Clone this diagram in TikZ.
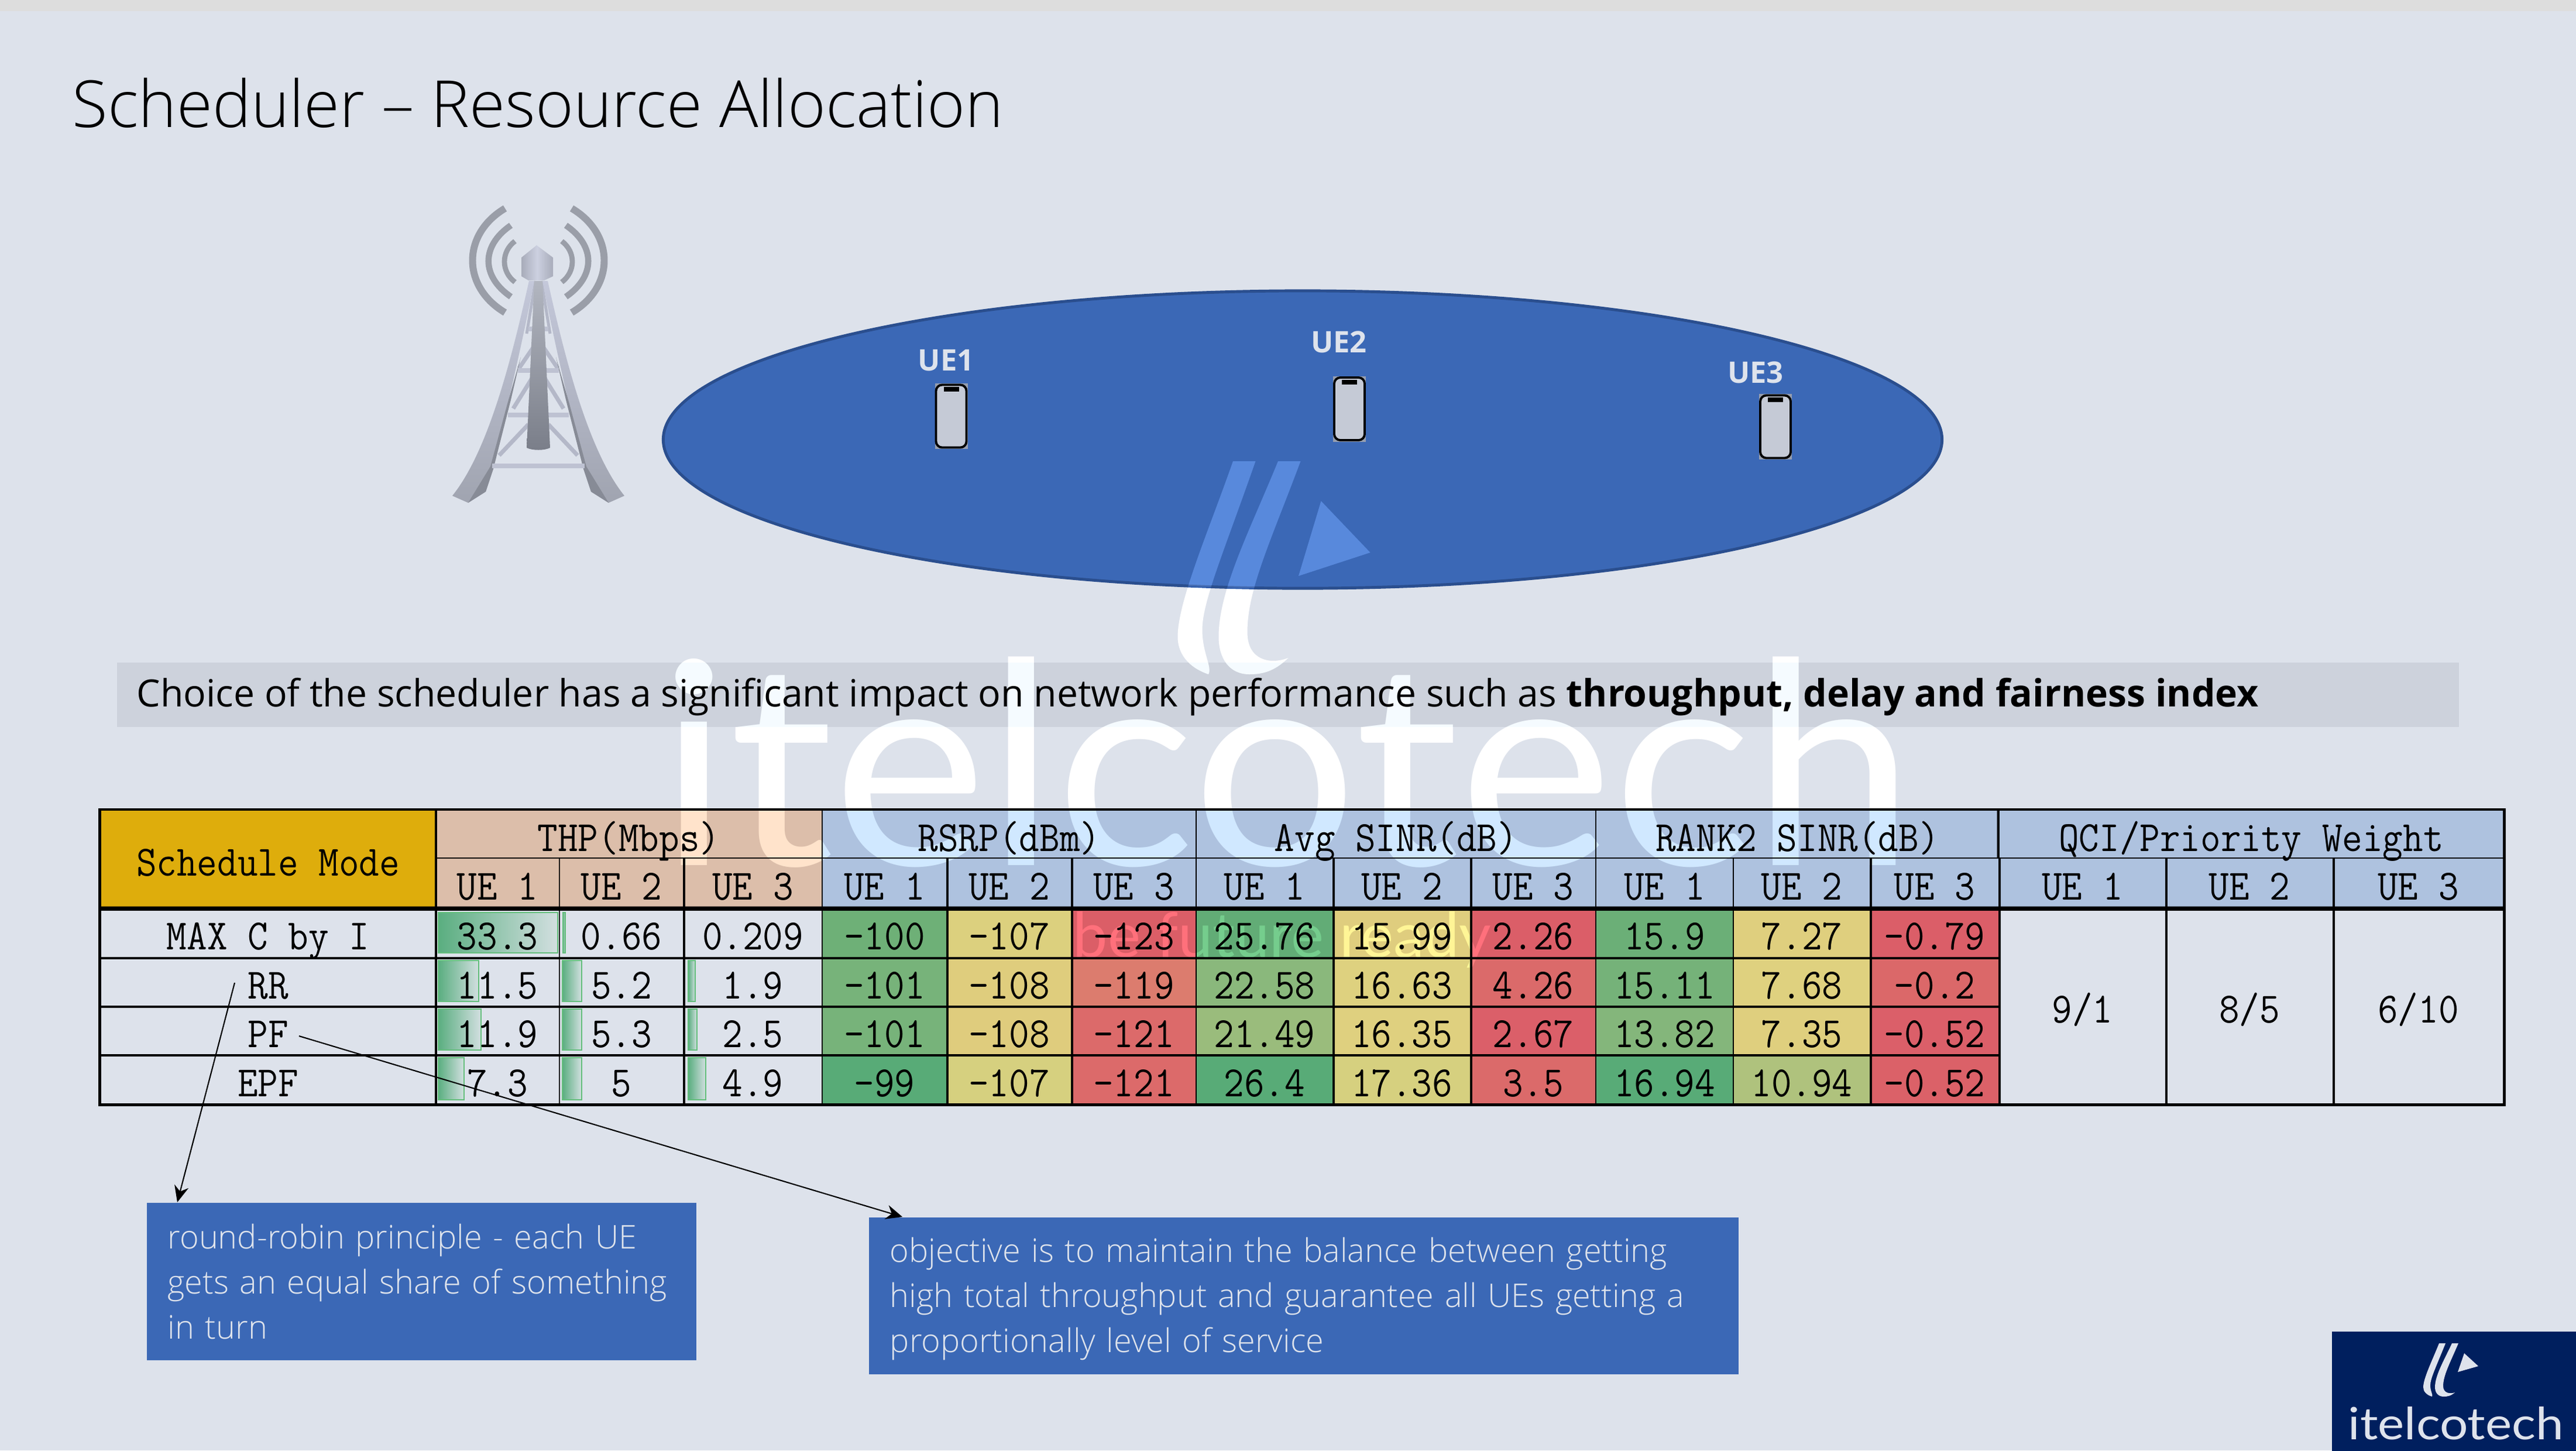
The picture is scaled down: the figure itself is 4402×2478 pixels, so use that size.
\documentclass[tikz,border=0pt]{standalone}
\usepackage{fontspec}
\usepackage{graphicx}
\setmainfont{Open Sans}
\newfontfamily\lightfont{Open Sans Light}
\newfontfamily\logofont{Lato}
\setmonofont[FakeStretch=0.91]{Latin Modern Mono}
\usetikzlibrary{shapes,shapes.geometric,arrows.meta,calc,positioning}

\definecolor{bgc}{HTML}{DDE2EB}
\definecolor{stripc}{HTML}{DDDDDD}
\definecolor{bluec}{HTML}{3B68B6}
\definecolor{blueline}{HTML}{2A4E8E}
\definecolor{bandc}{HTML}{CDD2DC}
\definecolor{goldc}{HTML}{DEAD0C}
\definecolor{thpc}{HTML}{DCBEAA}
\definecolor{hdrc}{HTML}{AEC2DF}
\definecolor{navyc}{HTML}{001F5E}
\definecolor{palec}{HTML}{DEE3EC}
\definecolor{wavec}{HTML}{9A9EA8}
\definecolor{dodgec}{HTML}{2A2A2A}
\definecolor{sparc}{HTML}{B4B8C8}
\definecolor{barc}{HTML}{BEC2D2}

\pgfdeclarelayer{base}
\pgfdeclarelayer{fills}
\pgfdeclarelayer{marks}
\pgfsetlayers{base,fills,marks,main}

\newcommand{\tablefont}{\ttfamily\fontsize{21}{24}\selectfont}
\def\colx{{744,956,1168,1405,1618,1831,2044,2278,2513,2727,2962,3196,3416}}

\tikzset{
  tabcell/.style={font=\tablefont, inner sep=0pt, draw=black, line width=.7pt,
    text height=16.5pt, text depth=0pt, align=center},
  databar/.style={draw={rgb,255:red,99;green,190;blue,123}, line width=.7pt,
    left color={rgb,255:red,90;green,174;blue,128}, right color={rgb,255:red,210;green,223;blue,224}},
  phone/.style={draw=black, line width=1.1pt, fill={rgb,255:red,197;green,202;blue,214},
    rounded corners=3pt, minimum width=.52cm, minimum height=1.07cm, inner sep=0pt},
  uelabel/.style={font=\bfseries\fontsize{14.4}{16}\selectfont, text=palec, inner sep=0pt},
  notebox/.style={fill=bluec, text=palec, font=\lightfont\fontsize{15.87}{21.9}\selectfont,
    align=left, inner xsep=.36cm, inner ysep=0pt, anchor=north west},
  bizlogo/.pic={
    \fill[pic actions] (0,0) -- (11,0) .. controls (-5,40) and (-15,60) .. (-15,72)
      .. controls (-15,82) and (-10,88) .. (-12,91) .. controls (-22,88) and (-27,82) .. (-27,75)
      .. controls (-27,60) and (-12,30) .. (0,0) -- cycle;
    \fill[pic actions] (22,0) -- (33,0) .. controls (18,35) and (7,55) .. (7,73)
      .. controls (7,85) and (18,87) .. (27,84) .. controls (20,90) and (14,91) .. (8,91)
      .. controls (-2,91) and (-7,84) .. (-7,75) .. controls (-7,55) and (8,30) .. (22,0) -- cycle;
    \fill[pic actions] (43,17) -- (67,39) -- (32,49) -- cycle;
  }
}

% name, x0, x1, y0, y1, text
\newcommand{\tabcell}[7][bgc]{%
  \pgfmathsetmacro{\cellw}{(#4-#3)*0.01}%
  \pgfmathsetmacro{\cellh}{(#6-#5)*0.01}%
  \node[tabcell, minimum width=\cellw cm, minimum height=\cellh cm] (#2) at ({(#3+#4)/2},{(#5+#6)/2}) {#7};
  \begin{pgfonlayer}{fills}
    \fill[#1] (#2.south west) rectangle (#2.north east);
  \end{pgfonlayer}
}
% row, y0, y1, label, cells
\newcommand{\datarow}[5]{%
  \tabcell{lab#1}{172}{744}{#2}{#3}{#4}
  \foreach \txt/\hx [count=\cidx] in {#5} {
    \pgfmathsetmacro{\xa}{\colx[\cidx-1]}
    \pgfmathsetmacro{\xb}{\colx[\cidx]}
    \definecolor{cellc}{HTML}{\hx}
    \tabcell[cellc]{c\cidx-#1}{\xa}{\xb}{#2}{#3}{\txt}
  }
}

\begin{document}
\begin{tikzpicture}[%
x=0.01cm,
y=-0.01cm,
>={Stealth[length=8pt,width=7pt]}
]
\useasboundingbox (0,0) rectangle (4402,2478);

% slide ground
\begin{pgfonlayer}{base}
\fill[bgc] (0,0) rectangle (4402,2478);
\fill[stripc] (0,0) rectangle (4402,19);
\end{pgfonlayer}

\node[anchor=base west, inner sep=0pt, font=\lightfont\fontsize{31.55}{36}\selectfont] (title) at (123,217)
  {Scheduler – Resource Allocation};

% tower
\foreach \sgn in {1,-1} {
\begin{scope}[shift={(920,0)}, xscale=\sgn]
\draw[wavec, line width=3.4pt] (-57,356) .. controls (-131,400) and (-131,490) .. (-57,534);
\draw[wavec, line width=3.0pt] (-47,385) .. controls (-98,420) and (-98,472) .. (-47,507);
\draw[wavec, line width=2.5pt] (-40,412) .. controls (-64,430) and (-64,464) .. (-40,482);
\draw[sparc, line width=2pt] (-7,591) -- (-33,629);
\draw[sparc, line width=2pt] (-12,648) -- (-43,698);
\draw[sparc, line width=2pt] (-17,725) -- (-67,778);
\draw[sparc, line width=1.4pt] (-5,480) -- (-20,570);
\shade[top color={rgb,255:red,196;green,200;blue,218}, bottom color={rgb,255:red,160;green,164;blue,176}]
  (-16,480) .. controls (-45,610) and (-85,770) .. (-147,847) -- (-120,859) -- (-90,840) -- (-77,801)
  .. controls (-60,720) and (-30,600) .. (-7,480) -- cycle;
\fill[color={rgb,255:red,135;green,139;blue,150}] (-30,610) -- (-53,690) -- (-82,797) -- (-120,859)
  -- (-90,840) -- (-77,801) -- (-47,683) -- cycle;
\end{scope}
}
\foreach \yb/\hw in {562/17,633/35,709/52,796/79}
  \draw[barc, line width=2.4pt] (920-\hw,\yb) -- (920+\hw,\yb);
\shade[top color={rgb,255:red,178;green,182;blue,192}, bottom color={rgb,255:red,122;green,126;blue,137}]
  (913,480) -- (927,480) -- (940,765) .. controls (930,770) and (910,770) .. (900,765) -- cycle;
\shade[left color={rgb,255:red,168;green,172;blue,186}, right color={rgb,255:red,168;green,172;blue,186},
  middle color={rgb,255:red,204;green,208;blue,224}]
  (891,440) -- (917,419) -- (945,440) -- (945,472) -- (930,479) -- (903,479) -- (891,472) -- cycle;

% coverage ellipse and band
\begin{pgfonlayer}{fills}
\node[ellipse, fill=bluec, draw=blueline, line width=1.4pt, minimum width=21.84cm, minimum height=5.08cm,
  inner sep=0pt] (cell) at (2226,751) {};
\node[fill=bandc, anchor=north west, minimum width=40cm, minimum height=1.1cm, inner sep=0pt] (band) at (199,1131) {};
\end{pgfonlayer}

\foreach \n/\x/\y in {1/1625.5/711,2/2306/698.5,3/3034/729} {
  \fill[color={rgb,255:red,150;green,158;blue,175}] (\x-28,\y-56) rectangle (\x+28,\y+56);
  \node[phone] (ph\n) at (\x,\y) {};
  \fill[black] (\x-13,\y-50) rectangle (\x+13,\y-42);
}
\node[uelabel, above=0.21cm of ph1, xshift=-0.09cm] (ue1) {UE1};
\node[uelabel, above=0.39cm of ph2, xshift=-0.18cm] (ue2) {UE2};
\node[uelabel, above=0.18cm of ph3, xshift=-0.34cm] (ue3) {UE3};

% watermark, lightening whatever lies under it
\begin{pgfonlayer}{marks}
\begin{scope}[blend mode=color dodge]
\pic[fill=dodgec, xscale=3.5, yscale=4] at (2107,788) {bizlogo};
\node[anchor=south west, inner sep=0pt, text=dodgec] (wmtext) at (1126,1483)
  {\resizebox{21.4cm}{3.56cm}{\logofont itelcotech}};
\node[anchor=base west, inner sep=0pt, text=dodgec] (ready) at (1833,1635)
  {\resizebox{7.14cm}{!}{\logofont be future ready}};
\end{scope}
\begin{scope}
\clip (2226,751) ellipse [x radius=1092, y radius=254];
\pic[fill=white, fill opacity=.1, xscale=3.5, yscale=4] at (2107,788) {bizlogo};
\end{scope}
\end{pgfonlayer}

\node[anchor=base west, inner sep=0pt, font=\fontsize{18.27}{22}\selectfont] (bandtext) at (233,1207)
  {Choice of the scheduler has a significant impact on network performance such as \textbf{throughput, delay and fairness index}};

% table head
\tabcell[goldc]{mode}{172}{744}{1384}{1551}{Schedule Mode}
\tabcell[thpc]{thp}{744}{1405}{1384}{1466}{THP(Mbps)}
\tabcell[hdrc]{rsrp}{1405}{2044}{1384}{1466}{RSRP(dBm)}
\tabcell[hdrc]{sinr}{2044}{2727}{1384}{1466}{Avg SINR(dB)}
\tabcell[hdrc]{rank}{2727}{3416}{1384}{1466}{RANK2 SINR(dB)}
\tabcell[hdrc]{qci}{3416}{4278}{1384}{1466}{QCI/Priority Weight}
\foreach \cidx in {1,...,12} {
  \pgfmathsetmacro{\xa}{\colx[\cidx-1]}
  \pgfmathsetmacro{\xb}{\colx[\cidx]}
  \pgfmathtruncatemacro{\uenum}{mod(\cidx-1,3)+1}
  \pgfmathsetmacro{\cname}{\cidx<4 ? "thpc" : "hdrc"}
  \tabcell[\cname]{u\cidx}{\xa}{\xb}{1466}{1551}{UE \uenum}
}
\tabcell[hdrc]{qu1}{3416}{3701}{1466}{1551}{UE 1}
\tabcell[hdrc]{qu2}{3701}{3987}{1466}{1551}{UE 2}
\tabcell[hdrc]{qu3}{3987}{4278}{1466}{1551}{UE 3}

% table rows
\datarow{1}{1551}{1636}{MAX C by I}{33.3/DDE2EB,0.66/DDE2EB,0.209/DDE2EB,-100/6EB077,-107/DCD07E,-123/DB5E67,25.76/62AC76,15.99/DFCD7E,2.26/DB5E68,15.9/6BAF77,7.27/DFCF7E,-0.79/DB5E68}
\datarow{2}{1636}{1719}{RR}{11.5/DDE2EB,5.2/DDE2EB,1.9/DDE2EB,-101/77B37A,-108/DFCD7D,-119/DC7C6E,22.58/8AB87C,16.63/DED17F,4.26/DB6A6A,15.11/75B279,7.68/DFD17F,-0.2/DB6869}
\datarow{3}{1719}{1802}{PF}{11.9/DDE2EB,5.3/DDE2EB,2.5/DDE2EB,-101/77B37A,-108/DFCC7D,-121/DC6A6A,21.49/9ABC7C,16.35/DFD07F,2.67/DB5F69,13.82/84B67B,7.35/DFCF7E,-0.52/DB5F69}
\datarow{4}{1802}{1886}{EPF}{7.3/DDE2EB,5/DDE2EB,4.9/DDE2EB,-99/58AB77,-107/D6D07F,-121/DC6A6A,26.4/58AB77,17.36/D6D07F,3.5/DB6A6A,16.94/58AB77,10.94/AFC27D,-0.52/DB6168}
\tabcell{qw1}{3416}{3701}{1551}{1886}{9/1}
\tabcell{qw2}{3701}{3987}{1551}{1886}{8/5}
\tabcell{qw3}{3987}{4278}{1551}{1886}{6/10}

% data bars in the THP columns
\begin{pgfonlayer}{fills}
\foreach \xa/\ya/\xb/\yb in {749/1559/953/1628,962/1559/966/1628,
  749/1641/818/1711,961/1641/994/1711,1176/1641/1188/1711,
  749/1724/822/1794,961/1724/994/1794,1176/1724/1191/1794,
  749/1807/793/1879,961/1807/994/1879,1176/1807/1206/1879}
  \path[databar] (\xa,\ya) rectangle (\xb,\yb);
\end{pgfonlayer}

% heavier rules
\foreach \r in {1,2,3}
  \draw[line width=1pt] (lab\r.south west) -- (c12-\r.south east);
\foreach \c in {2,4,5,7,8,11,12}
  \draw[line width=1.2pt] (u\c.north east) -- (c\c-4.south east);
\draw[line width=.9pt] (qu1.north east) -- (qw1.south east);
\draw[line width=.9pt] (qu2.north east) -- (qw2.south east);
\draw[line width=1.2pt] (qci.north west) -- (qu1.north west);
\draw[line width=1.2pt] (mode.north east) -- (lab4.south east);
\draw[line width=2pt] (mode.south west) -- (qu3.south east);
\draw[line width=1.3pt] (mode.north west) rectangle (qw3.south east);

% notes
\node[notebox, text width=8.67cm, minimum height=2.69cm] (rrbox) at (250,2054)
  {round-robin principle - each UE\\\mbox{gets an equal share of something}\\in turn};
\node[notebox, text width=14.13cm, minimum height=2.68cm, right=2.93cm of rrbox.north east, anchor=north west, yshift=-0.25cm] (pfbox)
  {\rule{0pt}{15pt}objective is to maintain the balance between getting\\high total throughput and guarantee all UEs getting a\\proportionally level of service};

\coordinate (rrout) at ($(lab2.center)+(-57,1.5)$);
\coordinate (pfout) at ($(lab3.center)+(53,9.5)$);
\coordinate (rrin) at ($(rrbox.north west)+(53,0)$);
\coordinate (pfin) at ($(pfbox.north west)+(58,0)$);
\draw[->, line width=.6pt] (rrout) -- (rrin);
\draw[->, line width=.6pt] (pfout) -- (pfin);

% corner logo
\node[fill=navyc, anchor=north west, minimum width=4.18cm, minimum height=2.04cm, inner sep=0pt] (corner) at (3984,2274) {};
\pic[fill=palec] at (4168,2295) {bizlogo};
\node[anchor=south west, inner sep=0pt, text=palec] (cornertext) at (4012,2461)
  {\resizebox{3.68cm}{0.56cm}{\logofont itelcotech}};
\end{tikzpicture}
\end{document}
